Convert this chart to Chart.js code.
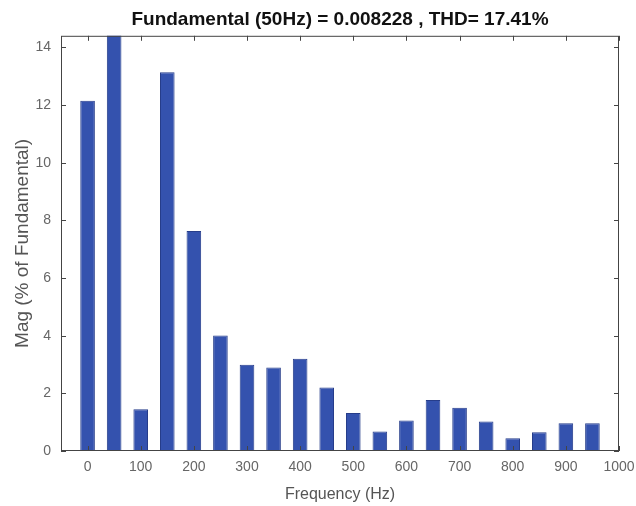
<!DOCTYPE html>
<html lang="en">
<head>
  <meta charset="UTF-8">
  <title>Harmonic spectrum</title>
  <script src="https://cdn.jsdelivr.net/npm/chart.js"></script>
  <style>
    body { margin: 0; background: #fff; }
    #wrap { width: 636px; height: 506px; }
  </style>
</head>
<body>
  <div id="wrap"><canvas id="fftChart" width="636" height="506"></canvas></div>
  <script>
    // harmonic frequencies (Hz) and magnitudes (% of fundamental)
    const freqs = [0, 50, 100, 150, 200, 250, 300, 350, 400, 450, 500, 550, 600, 650, 700, 750, 800, 850, 900, 950];
    const mags = [12.15, 100, 1.45, 13.14, 7.63, 4.01, 2.99, 2.9, 3.2, 2.2, 1.32, 0.68, 1.06, 1.77, 1.5, 1.02, 0.44, 0.65, 0.96, 0.96];
    const xTicks = [0, 100, 200, 300, 400, 500, 600, 700, 800, 900, 1000];
    const yTicks = [0, 2, 4, 6, 8, 10, 12, 14];
    const titleText = 'Fundamental (50Hz) = 0.008228 , THD= 17.41%';

    // matlab style box with inward ticks
    const boxPlugin = {
      id: 'box',
      afterDatasetsDraw(chart) {
        const { ctx, chartArea: a, scales } = chart;
        ctx.save();
        ctx.strokeStyle = '#444';
        ctx.lineWidth = 1;
        ctx.strokeRect(a.left + 0.5, a.top + 0.5, a.right - a.left - 1, a.bottom - a.top - 1);
        ctx.beginPath();
        xTicks.forEach(v => {
          const px = Math.round(scales.x.getPixelForValue(v)) + 0.5;
          ctx.moveTo(px, a.bottom); ctx.lineTo(px, a.bottom - 5);
          ctx.moveTo(px, a.top); ctx.lineTo(px, a.top + 5);
        });
        yTicks.forEach(v => {
          const py = Math.round(scales.y.getPixelForValue(v)) + 0.5;
          ctx.moveTo(a.left, py); ctx.lineTo(a.left + 5, py);
          ctx.moveTo(a.right, py); ctx.lineTo(a.right - 5, py);
        });
        ctx.stroke();
        ctx.restore();
      }
    };

    const ctx = document.getElementById('fftChart').getContext('2d');
    new Chart(ctx, {
      type: 'bar',
      data: {
        datasets: [{
          data: freqs.map((f, i) => ({ x: f, y: mags[i] })),
          backgroundColor: '#3452ae',
          borderColor: '#263d8a',
          borderWidth: 1,
          barPercentage: 0.55,
          categoryPercentage: 1
        }]
      },
      options: {
        responsive: false,
        animation: false,
        layout: { padding: { left: 0, right: 17, top: 0, bottom: 0 } },
        plugins: {
          legend: { display: false },
          tooltip: { enabled: false },
          title: {
            display: true,
            text: titleText,
            fullSize: false,
            color: '#111',
            font: { family: 'Liberation Sans', size: 19, weight: 'bold' },
            padding: { top: 8, bottom: 5 }
          }
        },
        scales: {
          x: {
            type: 'linear',
            offset: false,
            min: -50,
            max: 1000,
            grid: { display: false, drawTicks: false },
            border: { display: false },
            afterBuildTicks: s => { s.ticks = xTicks.map(v => ({ value: v })); },
            afterFit: s => { s.height = 55; s.paddingLeft = 0; s.paddingRight = 0; },
            ticks: {
              color: '#666',
              padding: 8,
              maxRotation: 0,
              callback: v => String(v),
              font: { family: 'Liberation Sans', size: 14 }
            },
            title: {
              display: true,
              text: 'Frequency (Hz)',
              color: '#555',
              padding: { top: 0, bottom: 2 },
              font: { family: 'Liberation Sans', size: 16 }
            }
          },
          y: {
            min: 0,
            max: 14.4,
            grid: { display: false, drawTicks: false },
            border: { display: false },
            afterBuildTicks: s => { s.ticks = yTicks.map(v => ({ value: v })); },
            afterFit: s => { s.width = 61; s.paddingTop = 0; s.paddingBottom = 0; },
            ticks: {
              color: '#666',
              padding: 10,
              font: { family: 'Liberation Sans', size: 14 }
            },
            title: {
              display: true,
              text: 'Mag (% of Fundamental)',
              color: '#555',
              padding: { top: 11, bottom: 0 },
              font: { family: 'Liberation Sans', size: 19 }
            }
          }
        }
      },
      plugins: [boxPlugin]
    });
  </script>
</body>
</html>
